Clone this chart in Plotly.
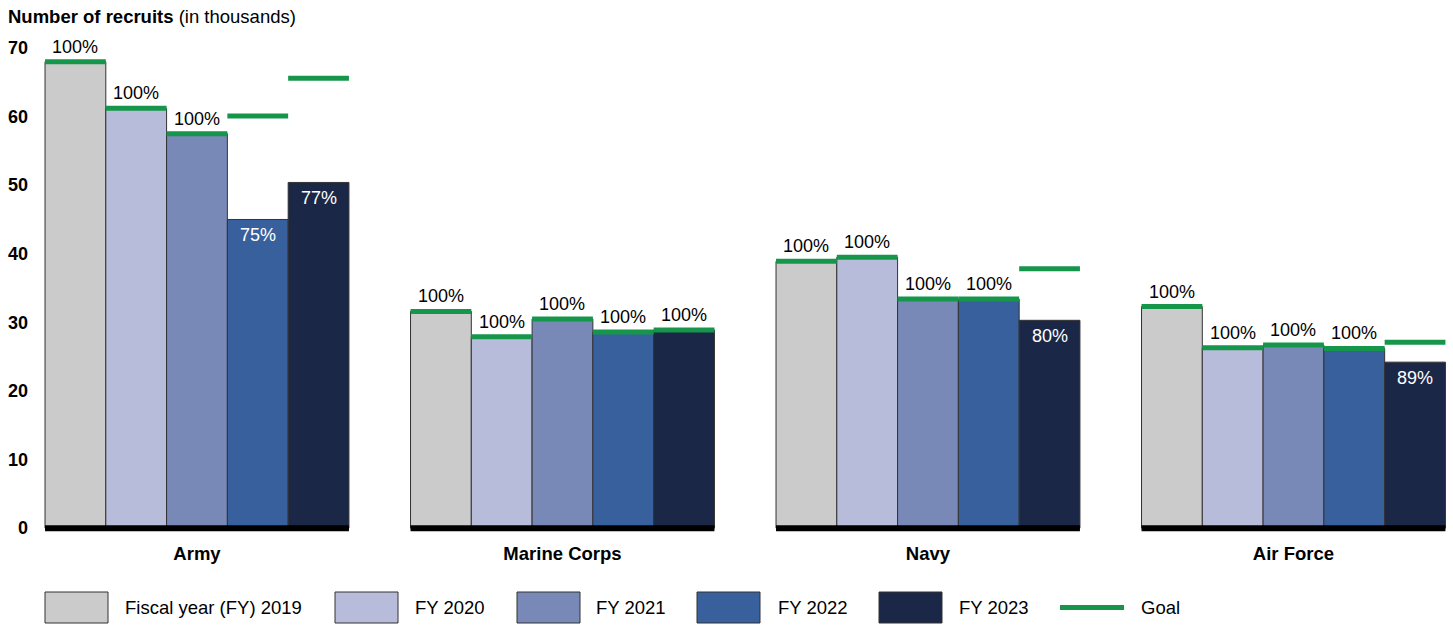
import plotly.graph_objects as go

# ---------------- data ----------------
services = ["Army", "Marine Corps", "Navy", "Air Force"]
year_labels = ["Fiscal year (FY) 2019", "FY 2020", "FY 2021", "FY 2022", "FY 2023"]

recruits_fy2019 = [68.0, 31.6, 38.9, 32.3]
recruits_fy2020 = [61.2, 27.9, 39.5, 26.3]
recruits_fy2021 = [57.5, 30.5, 33.4, 26.7]
recruits_fy2022 = [45.0, 28.6, 33.4, 26.2]
recruits_fy2023 = [50.4, 28.9, 30.3, 24.2]

goal_fy2019 = [68.0, 31.6, 38.9, 32.3]
goal_fy2020 = [61.2, 27.9, 39.5, 26.3]
goal_fy2021 = [57.5, 30.5, 33.4, 26.7]
goal_fy2022 = [60.1, 28.6, 33.4, 26.2]
goal_fy2023 = [65.6, 28.9, 37.8, 27.1]

pct_fy2019 = [100, 100, 100, 100]
pct_fy2020 = [100, 100, 100, 100]
pct_fy2021 = [100, 100, 100, 100]
pct_fy2022 = [75, 100, 100, 100]
pct_fy2023 = [77, 100, 80, 89]

y_ticks = [0, 10, 20, 30, 40, 50, 60, 70]

# ---------------- styles ----------------
colors = ["#cbcbcb", "#b8bcdb", "#7889b8", "#38609c", "#1a2747"]
goal_color = "#16964a"
FONT = "Liberation Sans, Arial, sans-serif"

W, H = 1453, 625
ML, MR, MT, MB = 40, 3, 48, 90
PW = W - ML - MR
PH = H - MT - MB

recruits = [recruits_fy2019, recruits_fy2020, recruits_fy2021, recruits_fy2022, recruits_fy2023]
goals = [goal_fy2019, goal_fy2020, goal_fy2021, goal_fy2022, goal_fy2023]
pcts = [pct_fy2019, pct_fy2020, pct_fy2021, pct_fy2022, pct_fy2023]

bar_w = 0.1663
n_years = len(year_labels)
group_w = bar_w * n_years
x_range = [-0.4295, -0.4295 + PW / 365.5]
unit_px = PW / (x_range[1] - x_range[0])

fig = go.Figure()

for k in range(n_years):
    off = (k - (n_years - 1) / 2) * bar_w
    xs = [i + off for i in range(len(services))]
    fig.add_trace(go.Bar(
        x=xs, y=recruits[k], width=bar_w, name=year_labels[k],
        marker=dict(color=colors[k], line=dict(color="#333333", width=1)),
        showlegend=False, hoverinfo="skip",
    ))

for k in range(n_years):
    off = (k - (n_years - 1) / 2) * bar_w
    xs = [i + off for i in range(len(services))]
    # goal lines (line-ew symbol spans 1.4 * size)
    fig.add_trace(go.Scatter(
        x=xs, y=goals[k], mode="markers",
        marker=dict(symbol="line-ew", size=bar_w * unit_px / 1.4,
                    line=dict(color=goal_color, width=5)),
        showlegend=False, hoverinfo="skip", cliponaxis=False,
    ))
    # percentage labels
    for i in range(len(services)):
        if pcts[k][i] >= 100:
            fig.add_annotation(x=xs[i], y=goals[k][i], xref="x", yref="y",
                               text=f"{pcts[k][i]}%", showarrow=False,
                               yanchor="bottom", yshift=3,
                               font=dict(family=FONT, size=18, color="black"))
        else:
            fig.add_annotation(x=xs[i], y=recruits[k][i], xref="x", yref="y",
                               text=f"{pcts[k][i]}%", showarrow=False,
                               yanchor="top", yshift=-4,
                               font=dict(family=FONT, size=18, color="white"))

# baseline under each group
for i in range(len(services)):
    fig.add_shape(type="line", xref="x", yref="y",
                  x0=i - group_w / 2, x1=i + group_w / 2, y0=0, y1=0,
                  line=dict(color="black", width=6), layer="above")

# ---------------- custom legend ----------------
def px(p):
    return (p - ML) / PW

def py(p):
    return (MT + PH - p) / PH

sw_x = [45, 335, 517, 697, 879]
tx_x = [125, 415, 596, 778, 959]
for k in range(n_years):
    fig.add_shape(type="rect", xref="paper", yref="paper",
                  x0=px(sw_x[k]), x1=px(sw_x[k] + 63), y0=py(623), y1=py(592),
                  fillcolor=colors[k], line=dict(color="#333333", width=1))
    fig.add_annotation(xref="paper", yref="paper", x=px(tx_x[k] - 2), y=py(607.5),
                       text=year_labels[k], showarrow=False, xanchor="left",
                       yanchor="middle", font=dict(family=FONT, size=18.5, color="black"))
fig.add_shape(type="line", xref="paper", yref="paper",
              x0=px(1060), x1=px(1124), y0=py(607.5), y1=py(607.5),
              line=dict(color=goal_color, width=5))
fig.add_annotation(xref="paper", yref="paper", x=px(1139), y=py(607.5),
                   text="Goal", showarrow=False, xanchor="left", yanchor="middle",
                   font=dict(family=FONT, size=18.5, color="black"))

fig.update_layout(
    width=W, height=H,
    margin=dict(l=ML, r=MR, t=MT, b=MB),
    plot_bgcolor="white", paper_bgcolor="white",
    font=dict(family=FONT, size=18, color="black"),
    title=dict(text="<b>Number of recruits</b> (in thousands)", xref="container",
               yref="container", x=8 / W, y=1 - 17 / H, xanchor="left",
               yanchor="middle", font=dict(family=FONT, size=18.5, color="black")),
    xaxis=dict(range=x_range, tickvals=list(range(len(services))), ticktext=services,
               tickfont=dict(family=FONT, size=18.5, color="black", weight="bold"),
               showgrid=False, zeroline=False, showline=False, ticks="",
               ticklabelstandoff=5),
    yaxis=dict(range=[-1, 70], tickvals=y_ticks,
               tickfont=dict(family=FONT, size=18, color="black", weight="bold"),
               showgrid=False, zeroline=False, showline=False, ticks="",
               ticklabelstandoff=11),
    showlegend=False,
)

fig.write_html("out.html")
